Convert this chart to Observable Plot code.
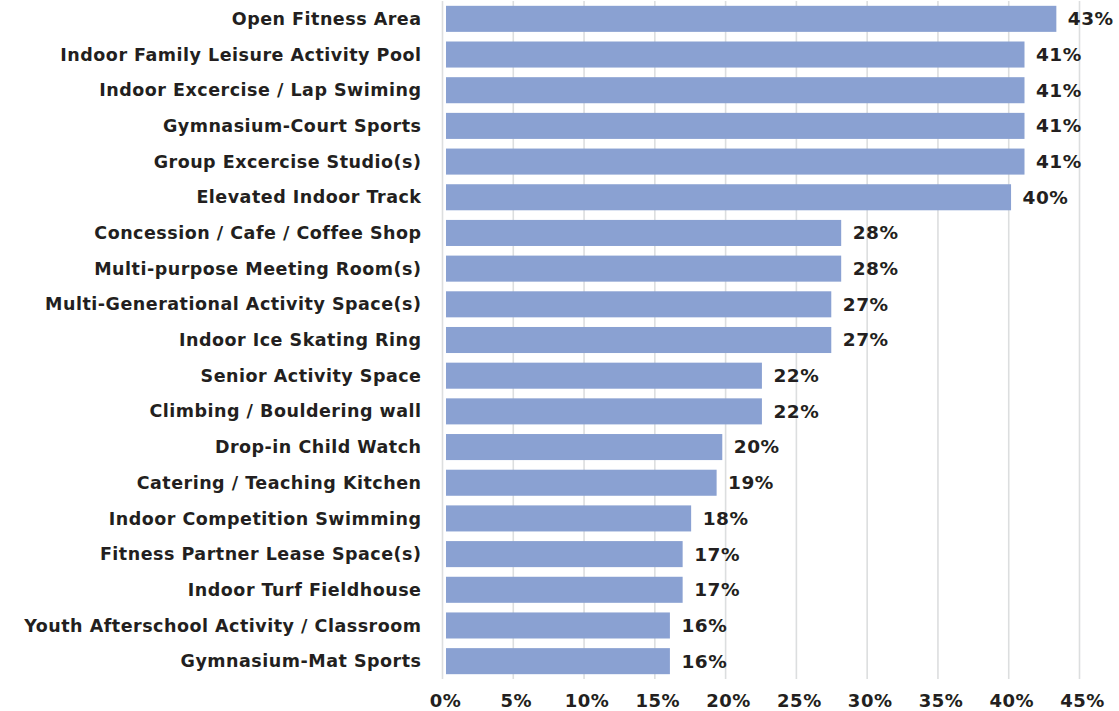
<!DOCTYPE html>
<html>
<head>
<meta charset="utf-8">
<script src="https://cdn.jsdelivr.net/npm/d3@7"></script>
<script src="https://cdn.jsdelivr.net/npm/@observablehq/plot@0.6"></script>
<style>
  html, body { margin: 0; padding: 0; background: #fff; }
  #chart svg { display: block; }
  #chart svg text { letter-spacing: 0.5px; }
</style>
</head>
<body>
<div id="chart"></div>
<script>
const categories = [
  "Open Fitness Area",
  "Indoor Family Leisure Activity Pool",
  "Indoor Excercise / Lap Swiming",
  "Gymnasium-Court Sports",
  "Group Excercise Studio(s)",
  "Elevated Indoor Track",
  "Concession / Cafe / Coffee Shop",
  "Multi-purpose Meeting Room(s)",
  "Multi-Generational Activity Space(s)",
  "Indoor Ice Skating Ring",
  "Senior Activity Space",
  "Climbing / Bouldering wall",
  "Drop-in Child Watch",
  "Catering / Teaching Kitchen",
  "Indoor Competition Swimming",
  "Fitness Partner Lease Space(s)",
  "Indoor Turf Fieldhouse",
  "Youth Afterschool Activity / Classroom",
  "Gymnasium-Mat Sports"
];
const values = [43.4, 41.15, 41.15, 41.15, 41.15, 40.2, 28.2, 28.2, 27.5, 27.5, 22.6, 22.6, 19.8, 19.4, 17.6, 17.0, 17.0, 16.1, 16.1];
const labels = ["43%", "41%", "41%", "41%", "41%", "40%", "28%", "28%", "27%", "27%", "22%", "22%", "20%", "19%", "18%", "17%", "17%", "16%", "16%"];
const xTicks = [0, 5, 10, 15, 20, 25, 30, 35, 40, 45];

const data = categories.map((c, i) => ({category: c, value: values[i], label: labels[i]}));

const textColor = "#231f20";
const barColor = "#8aa1d2";
const font = "'DejaVu Sans', sans-serif";

const chart = Plot.plot({
  width: 1119,
  height: 711,
  marginLeft: 442,
  marginRight: 40,
  marginTop: 1,
  marginBottom: 32,
  style: {fontFamily: font, fontWeight: 700, color: textColor, background: "#fff"},
  x: {domain: [0, 45], ticks: xTicks, tickFormat: d => d + "%", label: null},
  y: {domain: categories, paddingInner: 0.27, paddingOuter: 0.135, round: false, label: null},
  marks: [
    Plot.ruleX(xTicks, {stroke: "#dcdedf", strokeWidth: 1.6}),
    Plot.barX(data, {y: "category", x1: 0, x2: "value", fill: barColor, insetLeft: 4}),
    Plot.text(data, {y: "category", x: "value", text: "label", textAnchor: "start", dx: 11, fontSize: 18.5, fontWeight: 700, fill: textColor}),
    Plot.axisY({tickSize: 0, tickPadding: 21, fontSize: 17.5, fontWeight: 700, label: null}),
    Plot.axisX({ticks: xTicks, tickFormat: d => d + "%", tickSize: 0, tickPadding: 15, dx: 3, fontSize: 18, fontWeight: 700, label: null})
  ]
});
document.getElementById("chart").appendChild(chart);
</script>
</body>
</html>
